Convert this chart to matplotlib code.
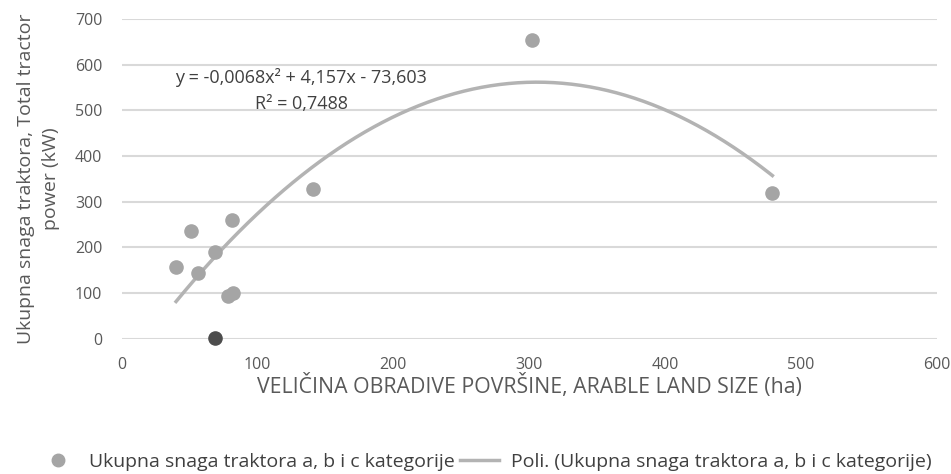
import numpy as np
import matplotlib
matplotlib.use("Agg")
import matplotlib.pyplot as plt
from matplotlib.lines import Line2D

# Data
land_size = [40, 51, 56, 69, 81, 78, 82, 141, 302, 479]
tractor_power = [157, 235, 145, 191, 260, 94, 100, 329, 655, 319]
highlight_x = [69]
highlight_y = [1]
poly_coef = [-0.0068, 4.157, -73.603]
x_ticks = [0, 100, 200, 300, 400, 500, 600]
y_ticks = [0, 100, 200, 300, 400, 500, 600, 700]

plt.rcParams['font.family'] = ['Open Sans', 'DejaVu Sans']

fig = plt.figure(figsize=(9.51, 4.74), dpi=100)
ax = fig.add_axes([0.128, 0.285, 0.857, 0.675])

ax.set_xlim(0, 600)
ax.set_ylim(0, 700)
ax.set_xticks(x_ticks)
ax.set_yticks(y_ticks)
ax.grid(axis='y', color='#D9D9D9', linewidth=1.5)
ax.set_axisbelow(True)
for s in ax.spines.values():
    s.set_visible(False)
ax.tick_params(length=0, colors='#595959', labelsize=11.5, pad=14)
ax.tick_params(axis='x', pad=13)

ax.scatter(land_size, tractor_power, s=90, color='#A5A5A5', zorder=3, clip_on=False)
ax.scatter(highlight_x, highlight_y, s=90, color='#4D4D4D', zorder=4, clip_on=False)

xf = np.linspace(min(land_size), max(land_size), 200)
yf = np.polyval(poly_coef, xf)
ax.plot(xf, yf, color='#B3B3B3', linewidth=2.5, zorder=2)

ax.text(0.22, 0.816, "y = -0,0068x² + 4,157x - 73,603", transform=ax.transAxes,
        ha='center', va='center', fontsize=13, color='#404040')
ax.text(0.22, 0.734, "R² = 0,7488", transform=ax.transAxes,
        ha='center', va='center', fontsize=13, color='#404040')

ax.set_xlabel("VELIČINA OBRADIVE POVRŠINE, ARABLE LAND SIZE (ha)", fontsize=15.3,
              color='#595959', labelpad=1)
ax.set_ylabel("Ukupna snaga traktora, Total tractor\npower (kW)", fontsize=14,
              color='#595959', linespacing=1.45)
ax.yaxis.set_label_coords(-0.076, 0.5)

handles = [
    Line2D([], [], marker='o', linestyle='none', markersize=9, color='#A5A5A5'),
    Line2D([], [], color='#B3B3B3', linewidth=2.5),
]
labels = ["Ukupna snaga traktora a, b i c kategorije",
          "Poli. (Ukupna snaga traktora a, b i c kategorije)"]
fig.legend(handles, labels, loc='center', bbox_to_anchor=(0.51, 0.025), ncol=2,
           frameon=False, fontsize=14, labelcolor='#404040',
           handlelength=2.0, columnspacing=0.3, handletextpad=0.6)

fig.savefig("out.png", dpi=100)
